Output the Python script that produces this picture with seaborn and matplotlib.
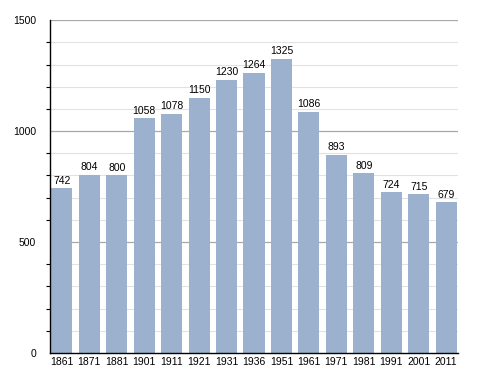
import matplotlib
matplotlib.use("Agg")
import matplotlib.pyplot as plt
import seaborn as sns
import pandas as pd
from matplotlib.ticker import MultipleLocator

years = ["1861", "1871", "1881", "1901", "1911", "1921", "1931", "1936",
         "1951", "1961", "1971", "1981", "1991", "2001", "2011"]
population = [742, 804, 800, 1058, 1078, 1150, 1230, 1264,
              1325, 1086, 893, 809, 724, 715, 679]

df = pd.DataFrame({"year": years, "pop": population})

sns.set_style("white")
plt.rcParams["font.family"] = ["Liberation Sans", "DejaVu Sans"]
plt.rcParams["text.color"] = "black"
plt.rcParams["xtick.color"] = "black"
plt.rcParams["ytick.color"] = "black"

fig = plt.figure(figsize=(4.88, 3.73), dpi=100)
ax = fig.add_axes([0.1025, 0.0536, 0.836, 0.8924])

# grid lines behind the bars
for v in range(100, 1501, 100):
    if v % 500 == 0:
        ax.axhline(v, color="#a8a8a8", lw=0.9, zorder=0)
    else:
        ax.axhline(v, color="#e2e2e2", lw=0.8, zorder=0)

sns.barplot(data=df, x="year", y="pop", color="#9bb1cd", saturation=1,
            width=0.77, edgecolor="none", ax=ax, zorder=2)

for i, v in enumerate(population):
    ax.text(i, v + 12, str(v), ha="center", va="bottom", fontsize=7.5,
            color="black", zorder=3)

ax.set_ylim(0, 1500)
ax.set_xlim(-0.43, 14.43)
ax.yaxis.set_major_locator(MultipleLocator(500))
ax.yaxis.set_minor_locator(MultipleLocator(100))
ax.tick_params(axis="y", which="major", length=0, labelsize=7.5, pad=10,
               labelcolor="black")
ax.tick_params(axis="y", which="minor", length=3, width=0.8, color="black", left=True)
ax.tick_params(axis="x", length=0, labelsize=7.5, pad=3, labelcolor="black")
ax.set_xlabel("")
ax.set_ylabel("")

for s in ["top", "right"]:
    ax.spines[s].set_visible(False)
for s in ["left", "bottom"]:
    ax.spines[s].set_color("black")
    ax.spines[s].set_linewidth(1.0)

fig.savefig("out.png", dpi=100)
